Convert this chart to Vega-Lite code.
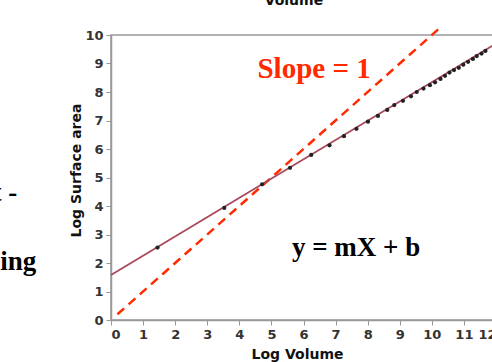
{
  "$schema": "https://vega.github.io/schema/vega-lite/v6.json",
  "autosize": {"type": "none"},
  "width": 385,
  "height": 285,
  "padding": {"left": 111, "top": 35, "right": 0, "bottom": 42},
  "background": "white",
  "view": {"stroke": "#999", "strokeWidth": 1.5},
  "config": {
    "axis": {"grid": false, "domainColor": "#999", "domainWidth": 1.5, "tickColor": "#999", "tickSize": 5, "labelFont": "DejaVu Sans", "labelFontSize": 13, "labelFontWeight": "bold", "labelColor": "#333", "titleFont": "DejaVu Sans", "titleFontSize": 14, "titleFontWeight": "bold", "titleColor": "#111"}
  },
  "datasets": {
    "pts": [
      {"x": 1.45, "y": 2.54}, {"x": 3.53, "y": 3.93}, {"x": 4.71, "y": 4.76}, {"x": 5.58, "y": 5.34},
      {"x": 6.24, "y": 5.79}, {"x": 6.81, "y": 6.13}, {"x": 7.26, "y": 6.45}, {"x": 7.65, "y": 6.71},
      {"x": 8.01, "y": 6.96}, {"x": 8.32, "y": 7.16}, {"x": 8.61, "y": 7.37}, {"x": 8.83, "y": 7.54},
      {"x": 9.10, "y": 7.69}, {"x": 9.35, "y": 7.85}, {"x": 9.53, "y": 8.0}, {"x": 9.74, "y": 8.12},
      {"x": 9.94, "y": 8.24}, {"x": 10.10, "y": 8.34}, {"x": 10.27, "y": 8.46}, {"x": 10.41, "y": 8.57},
      {"x": 10.55, "y": 8.68}, {"x": 10.69, "y": 8.77}, {"x": 10.84, "y": 8.85}, {"x": 10.98, "y": 8.96},
      {"x": 11.13, "y": 9.06}, {"x": 11.28, "y": 9.16}, {"x": 11.40, "y": 9.26}, {"x": 11.55, "y": 9.35},
      {"x": 11.67, "y": 9.44}
    ],
    "fit": [{"x": 0, "y": 1.58}, {"x": 12, "y": 9.7}],
    "slope1": [{"x": 0.2, "y": 0.2}, {"x": 10.2, "y": 10.2}],
    "redtext": [{"x": 6.33, "y": 8.49, "text": "Slope = 1"}],
    "blacktext": [{"x": 7.64, "y": 2.25, "text": "y = mX + b"}],
    "lefttext": [{"x": -2.92, "y": 4.18, "text": "t -"}, {"x": -2.33, "y": 1.75, "text": "ing"}],
    "toptext": [{"x": 5.7, "y": 11.05, "text": "Volume"}]
  },
  "encoding": {
    "x": {"field": "x", "type": "quantitative", "scale": {"domain": [0, 12], "nice": false, "zero": false},
      "axis": {"title": "Log Volume", "values": [0,1,2,3,4,5,6,7,8,9,10,11,12], "labelPadding": 3, "titleX": 186, "titleY": 38, "titleBaseline": "alphabetic", "titleAnchor": "middle"}},
    "y": {"field": "y", "type": "quantitative", "scale": {"domain": [0, 10], "nice": false, "zero": false},
      "axis": {"title": "Log Surface area", "values": [0,1,2,3,4,5,6,7,8,9,10], "labelPadding": 3, "titleX": -31, "titleY": 135, "titleBaseline": "alphabetic", "titleAnchor": "middle", "titleAngle": -90}}
  },
  "layer": [
    {"data": {"name": "slope1"}, "mark": {"type": "line", "color": "#ff2a00", "strokeWidth": 2.5, "strokeDash": [9, 6]}},
    {"data": {"name": "fit"}, "mark": {"type": "line", "color": "#a8485a", "strokeWidth": 1.8}},
    {"data": {"name": "pts"}, "mark": {"type": "circle", "color": "#222", "size": 18, "opacity": 1}},
    {"data": {"name": "redtext"}, "mark": {"type": "text", "font": "Liberation Serif", "fontWeight": "bold", "fontSize": 29, "color": "#ff2a00", "align": "center", "baseline": "alphabetic"}, "encoding": {"text": {"field": "text"}}},
    {"data": {"name": "blacktext"}, "mark": {"type": "text", "font": "Liberation Serif", "fontWeight": "bold", "fontSize": 27, "color": "#000", "align": "center", "baseline": "alphabetic"}, "encoding": {"text": {"field": "text"}}},
    {"data": {"name": "lefttext"}, "mark": {"type": "text", "font": "Liberation Serif", "fontWeight": "bold", "fontSize": 27, "color": "#000", "align": "right", "baseline": "alphabetic"}, "encoding": {"text": {"field": "text"}}},
    {"data": {"name": "toptext"}, "mark": {"type": "text", "font": "DejaVu Sans", "fontWeight": "bold", "fontSize": 14, "color": "#111", "align": "center", "baseline": "alphabetic"}, "encoding": {"text": {"field": "text"}}}
  ]
}
